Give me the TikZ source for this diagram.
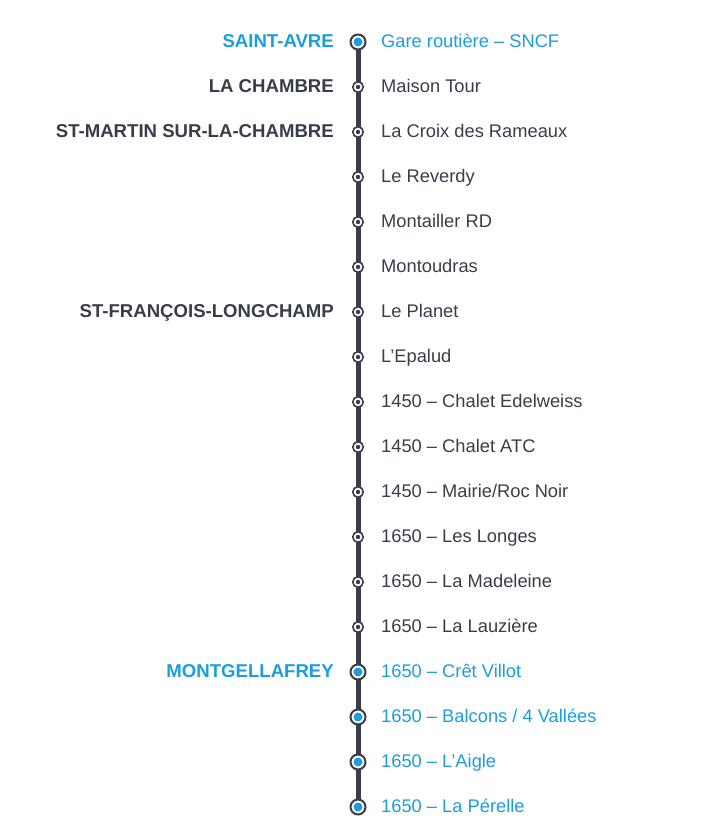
\documentclass[tikz,border=0pt]{standalone}
\usepackage{fontspec}
\setmainfont{Liberation Sans}
\definecolor{lineslate}{RGB}{56,61,74}
\definecolor{stopblue}{RGB}{27,157,223}
\usetikzlibrary{positioning}

\begin{document}
\begin{tikzpicture}[
    x=1pt, y=-1pt,
    track/.style={line width=5pt, lineslate},
    minorring/.style={circle, draw=lineslate, line width=1.6pt, fill=white,
                      minimum size=10.5pt, inner sep=0pt},
    hubring/.style={circle, draw=lineslate, line width=2pt, fill=white,
                    minimum size=15pt, inner sep=0pt},
    minordot/.style={circle, fill=lineslate, minimum size=4.5pt, inner sep=0pt},
    hubdot/.style={circle, fill=stopblue, minimum size=9pt, inner sep=0pt},
    minortext/.style={inner sep=0pt, text height=2ex, text depth=0pt,
                      font=\fontsize{18.3}{20}\selectfont, text=lineslate},
    hubtext/.style={minortext, text=stopblue},
    minortown/.style={minortext, font=\fontsize{18.6}{20}\selectfont\bfseries},
    hubtown/.style={minortown, text=stopblue}
]
    \useasboundingbox (0,0) rectangle (719,838);

    % stop positions along the line
    \foreach \i in {1,...,18}
        \coordinate (p\i) at (358, {42+45*(\i-1)});
    \draw[track] (p1) -- (p18);

    % stops and their names
    \foreach \i/\name/\kind in {
        1/{Gare routière – SNCF}/hub,
        2/{Maison Tour}/minor,
        3/{La Croix des Rameaux}/minor,
        4/{Le Reverdy}/minor,
        5/{Montailler RD}/minor,
        6/{Montoudras}/minor,
        7/{Le Planet}/minor,
        8/{L’Epalud}/minor,
        9/{1450 – Chalet Edelweiss}/minor,
        10/{1450 – Chalet ATC}/minor,
        11/{1450 – Mairie/Roc Noir}/minor,
        12/{1650 – Les Longes}/minor,
        13/{1650 – La Madeleine}/minor,
        14/{1650 – La Lauzière}/minor,
        15/{1650 – Crêt Villot}/hub,
        16/{1650 – Balcons / 4 Vallées}/hub,
        17/{1650 – L’Aigle}/hub,
        18/{1650 – La Pérelle}/hub}
    {
        \node[\kind ring] (s\i) at (p\i) {};
        \node[\kind dot] (d\i) at (p\i) {};
        \node[\kind text, right=23pt of s\i.center, anchor=west] (n\i) {\name};
    }

    % towns
    \foreach \i/\town/\kind in {
        1/SAINT-AVRE/hub,
        2/LA CHAMBRE/minor,
        3/ST-MARTIN SUR-LA-CHAMBRE/minor,
        7/ST-FRANÇOIS-LONGCHAMP/minor,
        15/MONTGELLAFREY/hub}
        \node[\kind town, left=24pt of s\i.center, anchor=east] (t\i) {\town};
\end{tikzpicture}
\end{document}
